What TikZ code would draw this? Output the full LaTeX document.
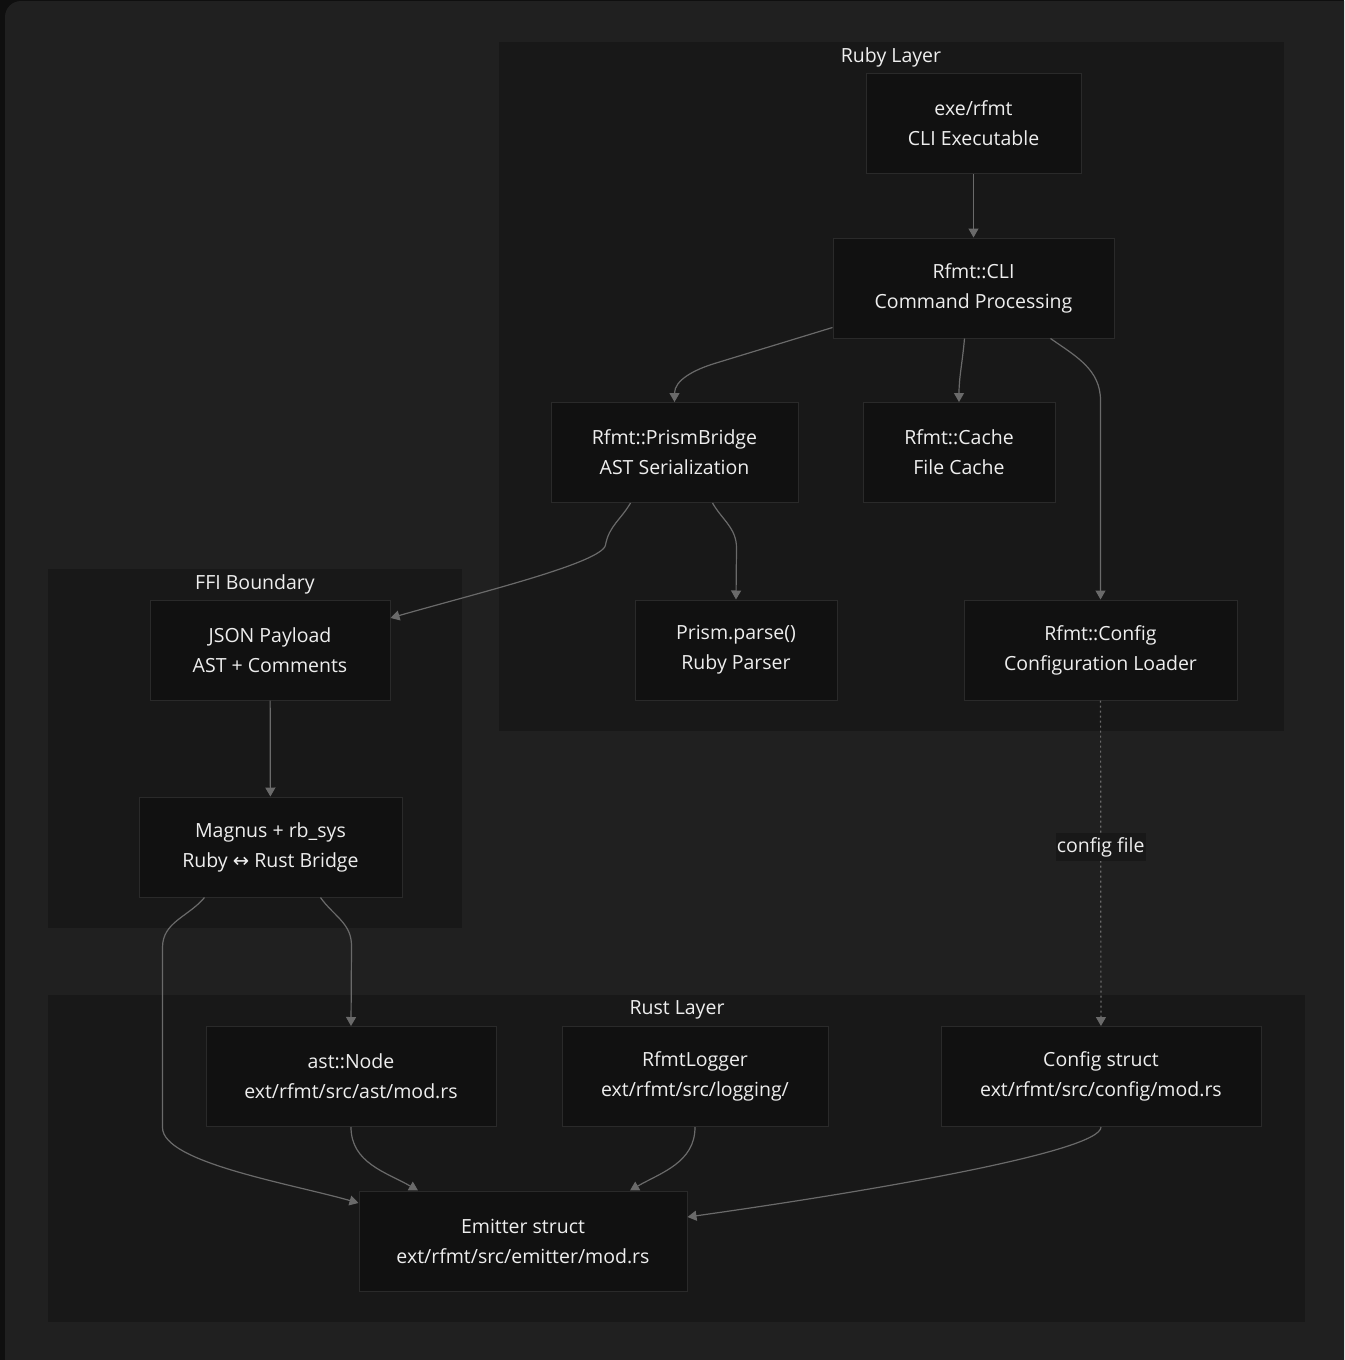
\documentclass[tikz,border=0pt]{standalone}
\usepackage{fontspec}
\setmainfont{Open Sans}
\newfontfamily\arrowfont{DejaVu Sans}
\usepackage{tikz}
\usetikzlibrary{arrows.meta, positioning, calc}
\definecolor{pagebg}{HTML}{0F0F0F}
\definecolor{canvasbg}{HTML}{202020}
\definecolor{layerbg}{HTML}{181818}
\definecolor{boxbg}{HTML}{111111}
\definecolor{boxline}{HTML}{2A2A2A}
\definecolor{inktext}{HTML}{EEEEEE}
\definecolor{wiregray}{HTML}{6A6A6A}
\tikzset{
    layer/.style={fill=layerbg, draw=none},
    layertitle/.style={text=inktext, font=\fontsize{19.5}{22}\selectfont, inner sep=0pt},
    box/.style={rectangle, draw=boxline, line width=1pt, fill=boxbg, text=inktext, align=center, minimum height=100pt, font=\fontsize{19.5}{30}\selectfont, inner sep=0pt},
    wire/.style={draw=wiregray, line width=1.2pt, -{Triangle[length=9pt,width=10pt]}},
    dottedwire/.style={wire, dash pattern=on 2pt off 3pt},
    tag/.style={fill=layerbg, text=inktext, font=\fontsize{19.5}{22}\selectfont, inner xsep=1pt, inner ysep=4pt}
}
\begin{document}
\begin{tikzpicture}[x=1pt, y=-1pt]
    \useasboundingbox (0,0) rectangle (1344,1360);
    \fill[pagebg] (0,0) rectangle (1344,1360);
    \begin{scope}
        \clip (0,0) rectangle (1344,1360);
        \fill[canvasbg, rounded corners=16pt] (5,1) rectangle (1400,1420);
    \end{scope}

    % Layers
    \fill[layer] (499,42) rectangle (1284,731);
    \node[layertitle] (rubytitle) at (891,57) {Ruby Layer};
    \fill[layer] (48,569) rectangle (462,928);
    \node[layertitle] (ffititle) at (255,584) {FFI Boundary};
    \fill[layer] (48,995) rectangle (1305,1322);
    \node[layertitle] (rusttitle) at (677,1010) {Rust Layer};

    % Ruby side
    \node[box, minimum width=215pt] (exe) at (973.5,123.5) {exe/rfmt\\CLI Executable};
    \node[box, minimum width=281pt] (cli) at (973.5,288) {Rfmt::CLI\\Command Processing};
    \node[box, minimum width=247pt] (bridge) at (674.5,452.5) {Rfmt::PrismBridge\\AST Serialization};
    \node[box, minimum width=192pt] (cache) at (959,452.5) {Rfmt::Cache\\File Cache};
    \node[box, minimum width=202pt] (parse) at (736,650) {Prism.parse()\\Ruby Parser};
    \node[box, minimum width=273pt] (config) at (1100.5,650) {Rfmt::Config\\Configuration Loader};

    % FFI side
    \node[box, minimum width=240pt] (json) at (270,650) {JSON Payload\\AST + Comments};
    \node[box, minimum width=263pt] (magnus) at (270.5,847) {Magnus + rb\_sys\\Ruby {\arrowfont ↔} Rust Bridge};

    % Rust side
    \node[box, minimum width=290pt] (astnode) at (351,1076.5) {ast::Node\\ext/rfmt/src/ast/mod.rs};
    \node[box, minimum width=266pt] (logger) at (695,1076.5) {RfmtLogger\\ext/rfmt/src/logging/};
    \node[box, minimum width=320pt] (cfgstruct) at (1101,1076.5) {Config struct\\ext/rfmt/src/config/mod.rs};
    \node[box, minimum width=328pt] (emitter) at (523,1241) {Emitter struct\\ext/rfmt/src/emitter/mod.rs};

    % Connectors
    \draw[wire] (exe) -- (cli);
    \draw[wire] ([yshift=11pt]cli.south west) -- ++(-118,36) to[out=197,in=90] (bridge.north);
    \draw[wire] ([xshift=-9pt]cli.south) to[out=-95,in=90] (cache.north);
    \draw[wire] ([xshift=-64pt]cli.south east) to[out=-35,in=90] ++(50,62) -- (config.north);
    \draw[wire] ([xshift=-44pt]bridge.south) to[out=-120,in=80] ++(-25,42)
        to[out=-100,in=16,out distance=18pt,in distance=90pt] ([yshift=32pt]json.east);
    \draw[wire] ([xshift=38pt]bridge.south) to[out=-60,in=90] ++(24,45) -- (parse.north);
    \draw[dottedwire] (config) -- node[tag, pos=0.45] (cfglabel) {config file} (cfgstruct);
    \draw[wire] (json) -- (magnus);
    \draw[wire] ([xshift=50pt]magnus.south) to[out=-55,in=90] ++(31,48) -- (astnode.north);
    \draw[wire] ([xshift=-66pt]magnus.south) to[out=-130,in=90] ++(-42,50) -- ++(0,180)
        to[out=-90,in=164,out distance=35pt,in distance=70pt] ([yshift=38pt]emitter.west);
    \draw[wire] (astnode.south) to[out=-90,in=150] ([xshift=-105pt]emitter.north);
    \draw[wire] (logger.south) to[out=-90,in=30] ([xshift=107pt]emitter.north);
    \draw[wire] (cfgstruct.south) to[out=-90,in=8,out distance=25pt,in distance=180pt] ([yshift=24pt]emitter.east);
\end{tikzpicture}
\end{document}
